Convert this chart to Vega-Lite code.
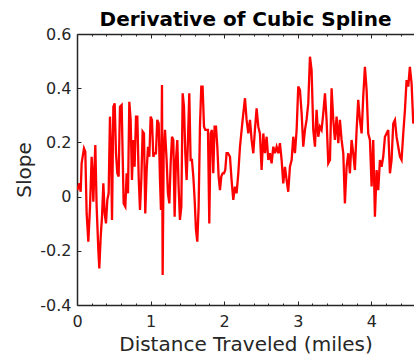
{
  "$schema": "https://vega.github.io/schema/vega-lite/v6.json",
  "autosize": {"type": "none"},
  "padding": {"left": 77, "top": 34, "right": 0, "bottom": 56},
  "width": 337,
  "height": 271,
  "background": "white",
  "config": {
    "view": {"stroke": null},
    "font": "DejaVu Sans",
    "axis": {"labelFont": "DejaVu Sans", "titleFont": "DejaVu Sans", "labelColor": "#262626", "titleColor": "#262626", "domainColor": "#262626", "tickColor": "#262626", "grid": false, "titleFontWeight": "normal", "labelFontSize": 16, "titleFontSize": 20, "domainWidth": 1.5, "tickWidth": 1}
  },
  "title": {"text": "Derivative of Cubic Spline", "font": "DejaVu Sans", "fontSize": 20, "fontWeight": "bold", "color": "#000000", "anchor": "middle", "offset": -4},
  "data": {"values": [
    {"d": 0.005, "s": 0.024}, {"d": 0.032, "s": 0.049}, {"d": 0.050, "s": 0.018}, {"d": 0.063, "s": 0.123}, {"d": 0.095, "s": 0.178}, {"d": 0.113, "s": 0.166}, {"d": 0.131, "s": -0.062}, {"d": 0.154, "s": -0.166}, {"d": 0.177, "s": -0.037}, {"d": 0.199, "s": 0.147},
    {"d": 0.213, "s": 0.061}, {"d": 0.222, "s": -0.019}, {"d": 0.235, "s": 0.092}, {"d": 0.249, "s": 0.190}, {"d": 0.267, "s": -0.037}, {"d": 0.290, "s": -0.197}, {"d": 0.303, "s": -0.265}, {"d": 0.322, "s": -0.148}, {"d": 0.340, "s": -0.074}, {"d": 0.358, "s": 0.049},
    {"d": 0.376, "s": -0.062}, {"d": 0.394, "s": -0.099}, {"d": 0.412, "s": -0.012}, {"d": 0.430, "s": 0.012}, {"d": 0.448, "s": 0.295}, {"d": 0.462, "s": 0.184}, {"d": 0.476, "s": -0.086}, {"d": 0.494, "s": 0.332}, {"d": 0.512, "s": 0.344}, {"d": 0.530, "s": 0.160},
    {"d": 0.548, "s": 0.086}, {"d": 0.566, "s": 0.074}, {"d": 0.584, "s": 0.332}, {"d": 0.607, "s": 0.338}, {"d": 0.620, "s": 0.160}, {"d": 0.634, "s": -0.025}, {"d": 0.657, "s": -0.037}, {"d": 0.675, "s": 0.086}, {"d": 0.693, "s": 0.012}, {"d": 0.711, "s": 0.350},
    {"d": 0.729, "s": 0.283}, {"d": 0.747, "s": 0.061}, {"d": 0.765, "s": 0.209}, {"d": 0.783, "s": 0.110}, {"d": 0.802, "s": 0.295}, {"d": 0.820, "s": 0.295}, {"d": 0.838, "s": 0.074}, {"d": 0.856, "s": -0.049}, {"d": 0.874, "s": 0.061}, {"d": 0.892, "s": 0.240},
    {"d": 0.910, "s": 0.233}, {"d": 0.928, "s": -0.062}, {"d": 0.947, "s": 0.098}, {"d": 0.965, "s": 0.184}, {"d": 0.983, "s": 0.147}, {"d": 1.001, "s": 0.295}, {"d": 1.019, "s": 0.283}, {"d": 1.037, "s": 0.147}, {"d": 1.055, "s": 0.160}, {"d": 1.073, "s": 0.160},
    {"d": 1.091, "s": 0.283}, {"d": 1.110, "s": 0.270}, {"d": 1.128, "s": 0.061}, {"d": 1.141, "s": -0.049}, {"d": 1.155, "s": 0.412}, {"d": 1.164, "s": -0.289}, {"d": 1.178, "s": 0.160}, {"d": 1.196, "s": 0.246}, {"d": 1.218, "s": 0.135}, {"d": 1.236, "s": 0.012},
    {"d": 1.255, "s": -0.025}, {"d": 1.273, "s": 0.123}, {"d": 1.291, "s": 0.221}, {"d": 1.309, "s": 0.209}, {"d": 1.327, "s": -0.074}, {"d": 1.345, "s": 0.135}, {"d": 1.363, "s": 0.209}, {"d": 1.381, "s": 0.037}, {"d": 1.399, "s": -0.086}, {"d": 1.418, "s": -0.037},
    {"d": 1.436, "s": 0.381}, {"d": 1.454, "s": 0.332}, {"d": 1.472, "s": 0.160}, {"d": 1.490, "s": 0.061}, {"d": 1.508, "s": 0.209}, {"d": 1.526, "s": 0.381}, {"d": 1.544, "s": 0.135}, {"d": 1.562, "s": 0.135}, {"d": 1.581, "s": 0.074}, {"d": 1.599, "s": -0.012},
    {"d": 1.617, "s": -0.123}, {"d": 1.635, "s": -0.166}, {"d": 1.653, "s": -0.037}, {"d": 1.671, "s": 0.258}, {"d": 1.689, "s": 0.406}, {"d": 1.707, "s": 0.406}, {"d": 1.726, "s": 0.258}, {"d": 1.744, "s": 0.246}, {"d": 1.762, "s": 0.246}, {"d": 1.780, "s": 0.246},
    {"d": 1.798, "s": -0.099}, {"d": 1.816, "s": 0.233}, {"d": 1.834, "s": 0.246}, {"d": 1.852, "s": 0.086}, {"d": 1.870, "s": 0.258}, {"d": 1.889, "s": 0.258}, {"d": 1.907, "s": 0.184}, {"d": 1.925, "s": 0.074}, {"d": 1.943, "s": 0.024}, {"d": 1.961, "s": 0.074},
    {"d": 1.979, "s": 0.086}, {"d": 1.997, "s": 0.086}, {"d": 2.015, "s": 0.098}, {"d": 2.033, "s": 0.160}, {"d": 2.052, "s": 0.160}, {"d": 2.079, "s": 0.147}, {"d": 2.101, "s": 0.061}, {"d": 2.124, "s": -0.012}, {"d": 2.147, "s": 0.037}, {"d": 2.169, "s": 0.012},
    {"d": 2.192, "s": 0.086}, {"d": 2.215, "s": 0.184}, {"d": 2.251, "s": 0.283}, {"d": 2.283, "s": 0.363}, {"d": 2.305, "s": 0.283}, {"d": 2.328, "s": 0.233}, {"d": 2.351, "s": 0.283}, {"d": 2.373, "s": 0.209}, {"d": 2.396, "s": 0.160}, {"d": 2.418, "s": 0.246},
    {"d": 2.441, "s": 0.326}, {"d": 2.464, "s": 0.258}, {"d": 2.486, "s": 0.233}, {"d": 2.509, "s": 0.098}, {"d": 2.532, "s": 0.233}, {"d": 2.554, "s": 0.160}, {"d": 2.577, "s": 0.221}, {"d": 2.600, "s": 0.135}, {"d": 2.622, "s": 0.160}, {"d": 2.645, "s": 0.123},
    {"d": 2.668, "s": 0.184}, {"d": 2.690, "s": 0.160}, {"d": 2.713, "s": 0.184}, {"d": 2.736, "s": 0.160}, {"d": 2.758, "s": 0.197}, {"d": 2.781, "s": 0.135}, {"d": 2.803, "s": 0.049}, {"d": 2.826, "s": 0.110}, {"d": 2.849, "s": 0.061}, {"d": 2.871, "s": 0.018},
    {"d": 2.894, "s": 0.110}, {"d": 2.917, "s": 0.135}, {"d": 2.939, "s": 0.221}, {"d": 2.962, "s": 0.160}, {"d": 2.985, "s": 0.246}, {"d": 3.007, "s": 0.406}, {"d": 3.030, "s": 0.393}, {"d": 3.053, "s": 0.307}, {"d": 3.075, "s": 0.184}, {"d": 3.098, "s": 0.246},
    {"d": 3.120, "s": 0.283}, {"d": 3.143, "s": 0.344}, {"d": 3.166, "s": 0.516}, {"d": 3.188, "s": 0.467}, {"d": 3.211, "s": 0.246}, {"d": 3.234, "s": 0.184}, {"d": 3.256, "s": 0.320}, {"d": 3.279, "s": 0.221}, {"d": 3.302, "s": 0.258}, {"d": 3.324, "s": 0.246},
    {"d": 3.347, "s": 0.307}, {"d": 3.370, "s": 0.381}, {"d": 3.392, "s": 0.283}, {"d": 3.415, "s": 0.123}, {"d": 3.438, "s": 0.135}, {"d": 3.460, "s": 0.400}, {"d": 3.483, "s": 0.283}, {"d": 3.505, "s": 0.209}, {"d": 3.528, "s": 0.295}, {"d": 3.551, "s": 0.197},
    {"d": 3.573, "s": 0.283}, {"d": 3.596, "s": 0.209}, {"d": 3.619, "s": 0.160}, {"d": 3.641, "s": -0.025}, {"d": 3.664, "s": 0.110}, {"d": 3.687, "s": 0.160}, {"d": 3.709, "s": 0.086}, {"d": 3.732, "s": 0.209}, {"d": 3.754, "s": 0.160}, {"d": 3.777, "s": 0.098},
    {"d": 3.800, "s": 0.246}, {"d": 3.822, "s": 0.357}, {"d": 3.845, "s": 0.283}, {"d": 3.868, "s": 0.233}, {"d": 3.890, "s": 0.369}, {"d": 3.913, "s": 0.479}, {"d": 3.936, "s": 0.393}, {"d": 3.958, "s": 0.233}, {"d": 3.981, "s": 0.209}, {"d": 4.004, "s": 0.037},
    {"d": 4.026, "s": 0.209}, {"d": 4.049, "s": -0.074}, {"d": 4.072, "s": 0.098}, {"d": 4.094, "s": 0.024}, {"d": 4.117, "s": 0.135}, {"d": 4.139, "s": 0.110}, {"d": 4.162, "s": 0.147}, {"d": 4.185, "s": 0.221}, {"d": 4.207, "s": 0.233}, {"d": 4.230, "s": 0.246},
    {"d": 4.253, "s": 0.086}, {"d": 4.275, "s": 0.135}, {"d": 4.298, "s": 0.270}, {"d": 4.321, "s": 0.283}, {"d": 4.343, "s": 0.221}, {"d": 4.366, "s": 0.184}, {"d": 4.389, "s": 0.147}, {"d": 4.411, "s": 0.135}, {"d": 4.434, "s": 0.233}, {"d": 4.457, "s": 0.320},
    {"d": 4.479, "s": 0.430}, {"d": 4.502, "s": 0.406}, {"d": 4.524, "s": 0.479}, {"d": 4.547, "s": 0.418}, {"d": 4.570, "s": 0.270}, {"d": 4.600, "s": 0.300}
  ]},
  "resolve": {"axis": {"x": "independent"}},
  "layer": [
    {
      "mark": {"type": "line", "color": "#ff0000", "strokeWidth": 2.3, "clip": true, "interpolate": "linear"},
      "encoding": {
        "x": {"field": "d", "type": "quantitative", "scale": {"domain": [0, 4.58], "nice": false, "zero": false},
          "axis": {"orient": "bottom", "title": "Distance Traveled (miles)", "titlePadding": 5,
            "values": [0, 0.2, 0.4, 0.6, 0.8, 1, 1.2, 1.4, 1.6, 1.8, 2, 2.2, 2.4, 2.6, 2.8, 3, 3.2, 3.4, 3.6, 3.8, 4, 4.2, 4.4],
            "labelExpr": "abs(datum.value - round(datum.value)) < 0.001 ? toString(round(datum.value)) : ''",
            "tickSize": {"condition": {"test": "abs(datum.value - round(datum.value)) < 0.001", "value": -4}, "value": -2},
            "labelPadding": 12, "labelFlush": false}},
        "y": {"field": "s", "type": "quantitative", "scale": {"domain": [-0.4, 0.6], "nice": false, "zero": false},
          "axis": {"title": "Slope", "titlePadding": 5,
            "values": [-0.4, -0.35, -0.3, -0.25, -0.2, -0.15, -0.1, -0.05, 0, 0.05, 0.1, 0.15, 0.2, 0.25, 0.3, 0.35, 0.4, 0.45, 0.5, 0.55, 0.6],
            "labelExpr": "abs(datum.value * 5 - round(datum.value * 5)) < 0.001 ? toString(round(datum.value * 5) / 5) : ''",
            "tickSize": {"condition": {"test": "abs(datum.value * 5 - round(datum.value * 5)) < 0.001", "value": -4}, "value": -2},
            "labelPadding": 10, "labelFlush": false}}
      }
    },
    {
      "mark": {"type": "line", "opacity": 0},
      "encoding": {
        "x": {"field": "d", "type": "quantitative",
          "axis": {"orient": "top", "title": null, "labels": false,
            "values": [0, 0.2, 0.4, 0.6, 0.8, 1, 1.2, 1.4, 1.6, 1.8, 2, 2.2, 2.4, 2.6, 2.8, 3, 3.2, 3.4, 3.6, 3.8, 4, 4.2, 4.4],
            "tickSize": {"condition": {"test": "abs(datum.value - round(datum.value)) < 0.001", "value": -4}, "value": -2}}},
        "y": {"field": "s", "type": "quantitative"}
      }
    }
  ]
}
